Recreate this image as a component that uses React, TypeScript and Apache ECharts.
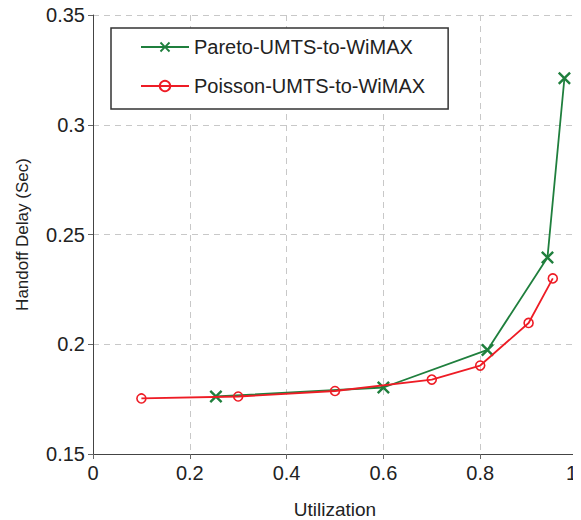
import React, { useEffect, useRef } from "react";
import * as echarts from "echarts";

const seriesNames = ["Pareto-UMTS-to-WiMAX", "Poisson-UMTS-to-WiMAX"];
const paretoUtil = [0.254, 0.6, 0.815, 0.939, 0.974];
const paretoDelay = [0.1762, 0.1803, 0.1974, 0.2395, 0.3212];
const poissonUtil = [0.1, 0.3, 0.5, 0.7, 0.8, 0.9, 0.95];
const poissonDelay = [0.1753, 0.1762, 0.1787, 0.1839, 0.1903, 0.2097, 0.23];
const xTicks = [0, 0.2, 0.4, 0.6, 0.8, 1];
const yTicks = [0.15, 0.2, 0.25, 0.3, 0.35];

const GREEN = "#1f7f3d";
const RED = "#ee1c25";
const FONT = "'Liberation Sans', Arial, sans-serif";
const XSYM = "path://M0,1.3 L1.3,0 L5,3.7 L8.7,0 L10,1.3 L6.3,5 L10,8.7 L8.7,10 L5,6.3 L1.3,10 L0,8.7 L3.7,5 Z";

export default function App() {
  const ref = useRef<HTMLDivElement>(null);
  useEffect(() => {
    if (!ref.current) return;
    const chart = echarts.init(ref.current, null, { renderer: "svg" });
    const fmt = (v: number) => String(Number(v.toFixed(2)));
    chart.setOption({
      animation: false,
      backgroundColor: "#fff",
      textStyle: { fontFamily: FONT },
      grid: { left: 93, right: 4, top: 15, bottom: 66, outerBoundsMode: "none", containLabel: false },
      legend: {
        orient: "vertical",
        left: 111,
        top: 28,
        padding: [9, 23, 13, 29],
        itemGap: 19,
        itemWidth: 48,
        itemHeight: 13,
        borderColor: "#333",
        borderWidth: 1.5,
        backgroundColor: "#fff",
        textStyle: { fontSize: 20, color: "#222", fontFamily: FONT },
        data: seriesNames,
      },
      xAxis: {
        type: "value",
        min: xTicks[0],
        max: xTicks[xTicks.length - 1],
        interval: 0.2,
        name: "Utilization",
        nameLocation: "middle",
        nameGap: 46,
        nameTextStyle: { fontSize: 19, color: "#222", fontFamily: FONT },
        axisLine: { lineStyle: { color: "#444", width: 1 } },
        axisTick: { show: true, length: 5, lineStyle: { color: "#666" } },
        axisLabel: { fontSize: 20, color: "#222", margin: 9, formatter: fmt, alignMaxLabel: "right" },
        splitLine: { show: true, lineStyle: { color: "#c8c8c8", type: [6, 5], width: 1 } },
      },
      yAxis: {
        type: "value",
        min: yTicks[0],
        max: yTicks[yTicks.length - 1],
        interval: 0.05,
        name: "Handoff Delay (Sec)",
        nameLocation: "middle",
        nameGap: 62,
        nameTextStyle: { fontSize: 17, color: "#222", fontFamily: FONT },
        axisLine: { show: true, lineStyle: { color: "#444", width: 1 } },
        axisTick: { show: true, length: 5, lineStyle: { color: "#666" } },
        axisLabel: { fontSize: 20, color: "#222", margin: 8, formatter: fmt },
        splitLine: { show: true, lineStyle: { color: "#c8c8c8", type: [6, 5], width: 1 } },
      },
      series: [
        {
          name: seriesNames[0],
          type: "line",
          data: paretoUtil.map((x, i) => [x, paretoDelay[i]]),
          symbol: XSYM,
          symbolSize: 13,
          showAllSymbol: true,
          lineStyle: { color: GREEN, width: 1.8 },
          itemStyle: { color: GREEN },
          z: 3,
        },
        {
          name: seriesNames[1],
          type: "line",
          data: poissonUtil.map((x, i) => [x, poissonDelay[i]]),
          symbol: "circle",
          symbolSize: 9,
          showAllSymbol: true,
          lineStyle: { color: RED, width: 1.8 },
          itemStyle: { color: "transparent", borderColor: RED, borderWidth: 1.6 },
          z: 4,
        },
      ],
    });
    return () => chart.dispose();
  }, []);
  return <div ref={ref} style={{ width: 581, height: 520, marginLeft: -8, marginTop: -8 }} />;
}
